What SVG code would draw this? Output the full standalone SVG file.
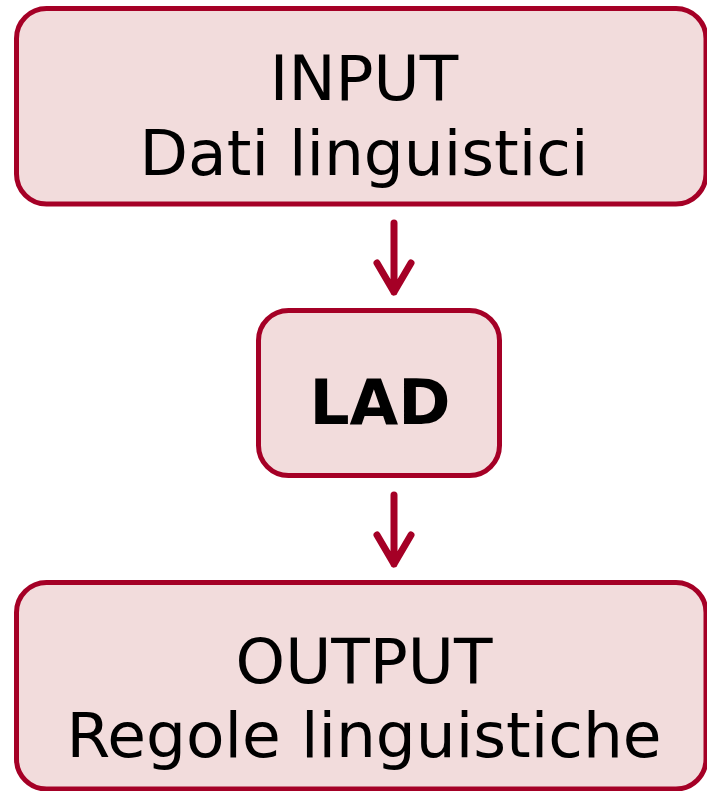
<svg xmlns="http://www.w3.org/2000/svg" width="707" height="791" viewBox="0 0 707 791">
<style>
.box{fill:#F2DCDC;stroke:#A50026;stroke-width:5}
.t{font-family:"DejaVu Sans",Verdana,sans-serif;font-size:63px;fill:#000;text-anchor:middle}
.b{font-family:"DejaVu Sans",Verdana,sans-serif;font-size:63px;font-weight:bold;fill:#000;text-anchor:middle}
.c{fill:none;stroke:#A50026;stroke-width:7;stroke-linecap:round;stroke-linejoin:round}
</style>
<rect width="707" height="791" fill="#fff"/>
<g id="input">
<rect class="box" x="16.5" y="8.5" width="689.5" height="195.5" rx="30" ry="30"/>
<text class="t" x="364" y="100">INPUT</text>
<text class="t" x="364" y="175">Dati linguistici</text>
</g>
<g id="lad">
<rect class="box" x="258.5" y="310.5" width="241" height="165" rx="30" ry="30"/>
<text class="b" x="380" y="424">LAD</text>
</g>
<g id="output">
<rect class="box" x="16.5" y="582.5" width="689.5" height="206.5" rx="30" ry="30"/>
<text class="t" x="364" y="683">OUTPUT</text>
<text class="t" x="364" y="757">Regole linguistiche</text>
</g>
<g id="connectors">
<path class="c" d="M394 223 V292 M377 263 L394 292 L411 263"/>
<path class="c" d="M394 495 V564 M377 535 L394 564 L411 535"/>
</g>
</svg>
